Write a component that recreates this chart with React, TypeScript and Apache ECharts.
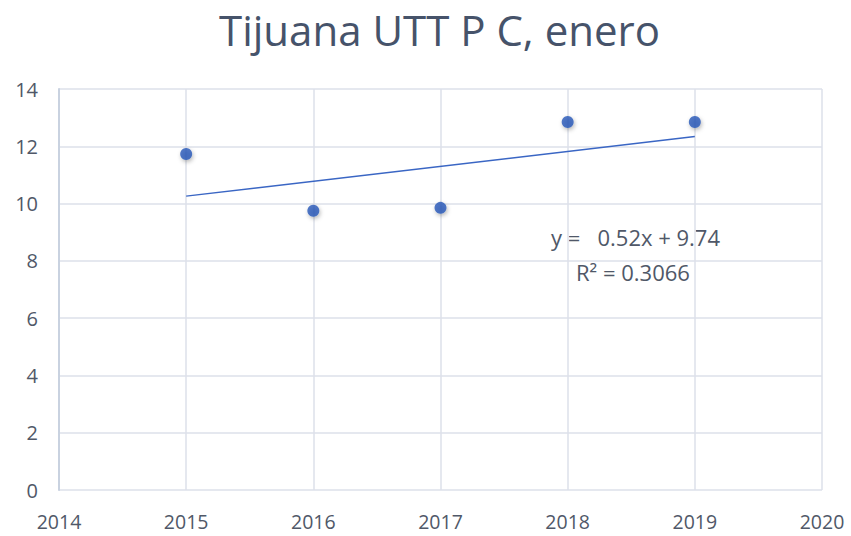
import React, { useEffect, useRef } from "react";
import * as echarts from "echarts";

const years = [2015, 2016, 2017, 2018, 2019];
const values = [11.73, 9.75, 9.85, 12.85, 12.85];
const slope = 0.52;
const intercept = 9.74;
const rSquared = 0.3066;
const xTicks = [2014, 2015, 2016, 2017, 2018, 2019, 2020];
const yTicks = [0, 2, 4, 6, 8, 10, 12, 14];

export default function App() {
  const ref = useRef<HTMLDivElement>(null);
  useEffect(() => {
    document.body.style.margin = "0";
    const chart = echarts.init(ref.current!, null, { renderer: "svg" });
    const trend = years.map((y, i) => [y, intercept + slope * (i + 1)]);
    const trendEnds = [trend[0], trend[trend.length - 1]];
    chart.setOption({
      animation: false,
      backgroundColor: "#ffffff",
      title: {
        text: "Tijuana UTT P C, enero",
        left: 214,
        top: 3,
        textStyle: { fontFamily: "Open Sans", fontSize: 42, fontWeight: "normal", color: "#46536A" },
      },
      grid: { left: 59, right: 29, top: 89, bottom: 46 },
      xAxis: {
        type: "value",
        min: xTicks[0],
        max: xTicks[xTicks.length - 1],
        interval: 1,
        axisLine: { show: false },
        axisTick: { show: false },
        axisLabel: {
          color: "#505868",
          fontFamily: "Open Sans",
          fontSize: 19.5,
          lineHeight: 19,
          margin: 22,
          formatter: (v: number) => String(v),
        },
        splitLine: { show: true, lineStyle: { color: "#DCE1EA", width: 1.5 } },
      },
      yAxis: {
        type: "value",
        min: yTicks[0],
        max: yTicks[yTicks.length - 1],
        interval: 2,
        axisLine: { show: true, lineStyle: { color: "#C9D2E0", width: 2 } },
        axisTick: { show: false },
        axisLabel: { color: "#505868", fontFamily: "Open Sans", fontSize: 20, margin: 21 },
        splitLine: { show: true, lineStyle: { color: "#DCE1EA", width: 1.5 } },
      },
      series: [
        {
          type: "line",
          data: trendEnds,
          showSymbol: false,
          lineStyle: { color: "#3A66C4", width: 1.5 },
          z: 2,
        },
        {
          type: "scatter",
          data: years.map((y, i) => [y, values[i]]),
          symbolSize: 12,
          itemStyle: {
            color: "#2456B8",
            shadowColor: "rgba(0,0,0,0.35)",
            shadowBlur: 4,
            shadowOffsetX: 1,
            shadowOffsetY: 2,
          },
          z: 3,
        },
      ],
      graphic: [
        {
          type: "text",
          left: 551,
          top: 226,
          style: {
            text: "y =   " + slope.toFixed(2) + "x + " + intercept.toFixed(2),
            fontFamily: "Open Sans",
            fontSize: 22,
            fill: "#505868",
          },
        },
        {
          type: "text",
          left: 576,
          top: 261,
          style: {
            text: "R² = " + rSquared.toFixed(4),
            fontFamily: "Open Sans",
            fontSize: 22,
            fill: "#505868",
          },
        },
      ],
    });
    return () => chart.dispose();
  }, []);
  return <div ref={ref} style={{ width: 851, height: 536 }} />;
}
